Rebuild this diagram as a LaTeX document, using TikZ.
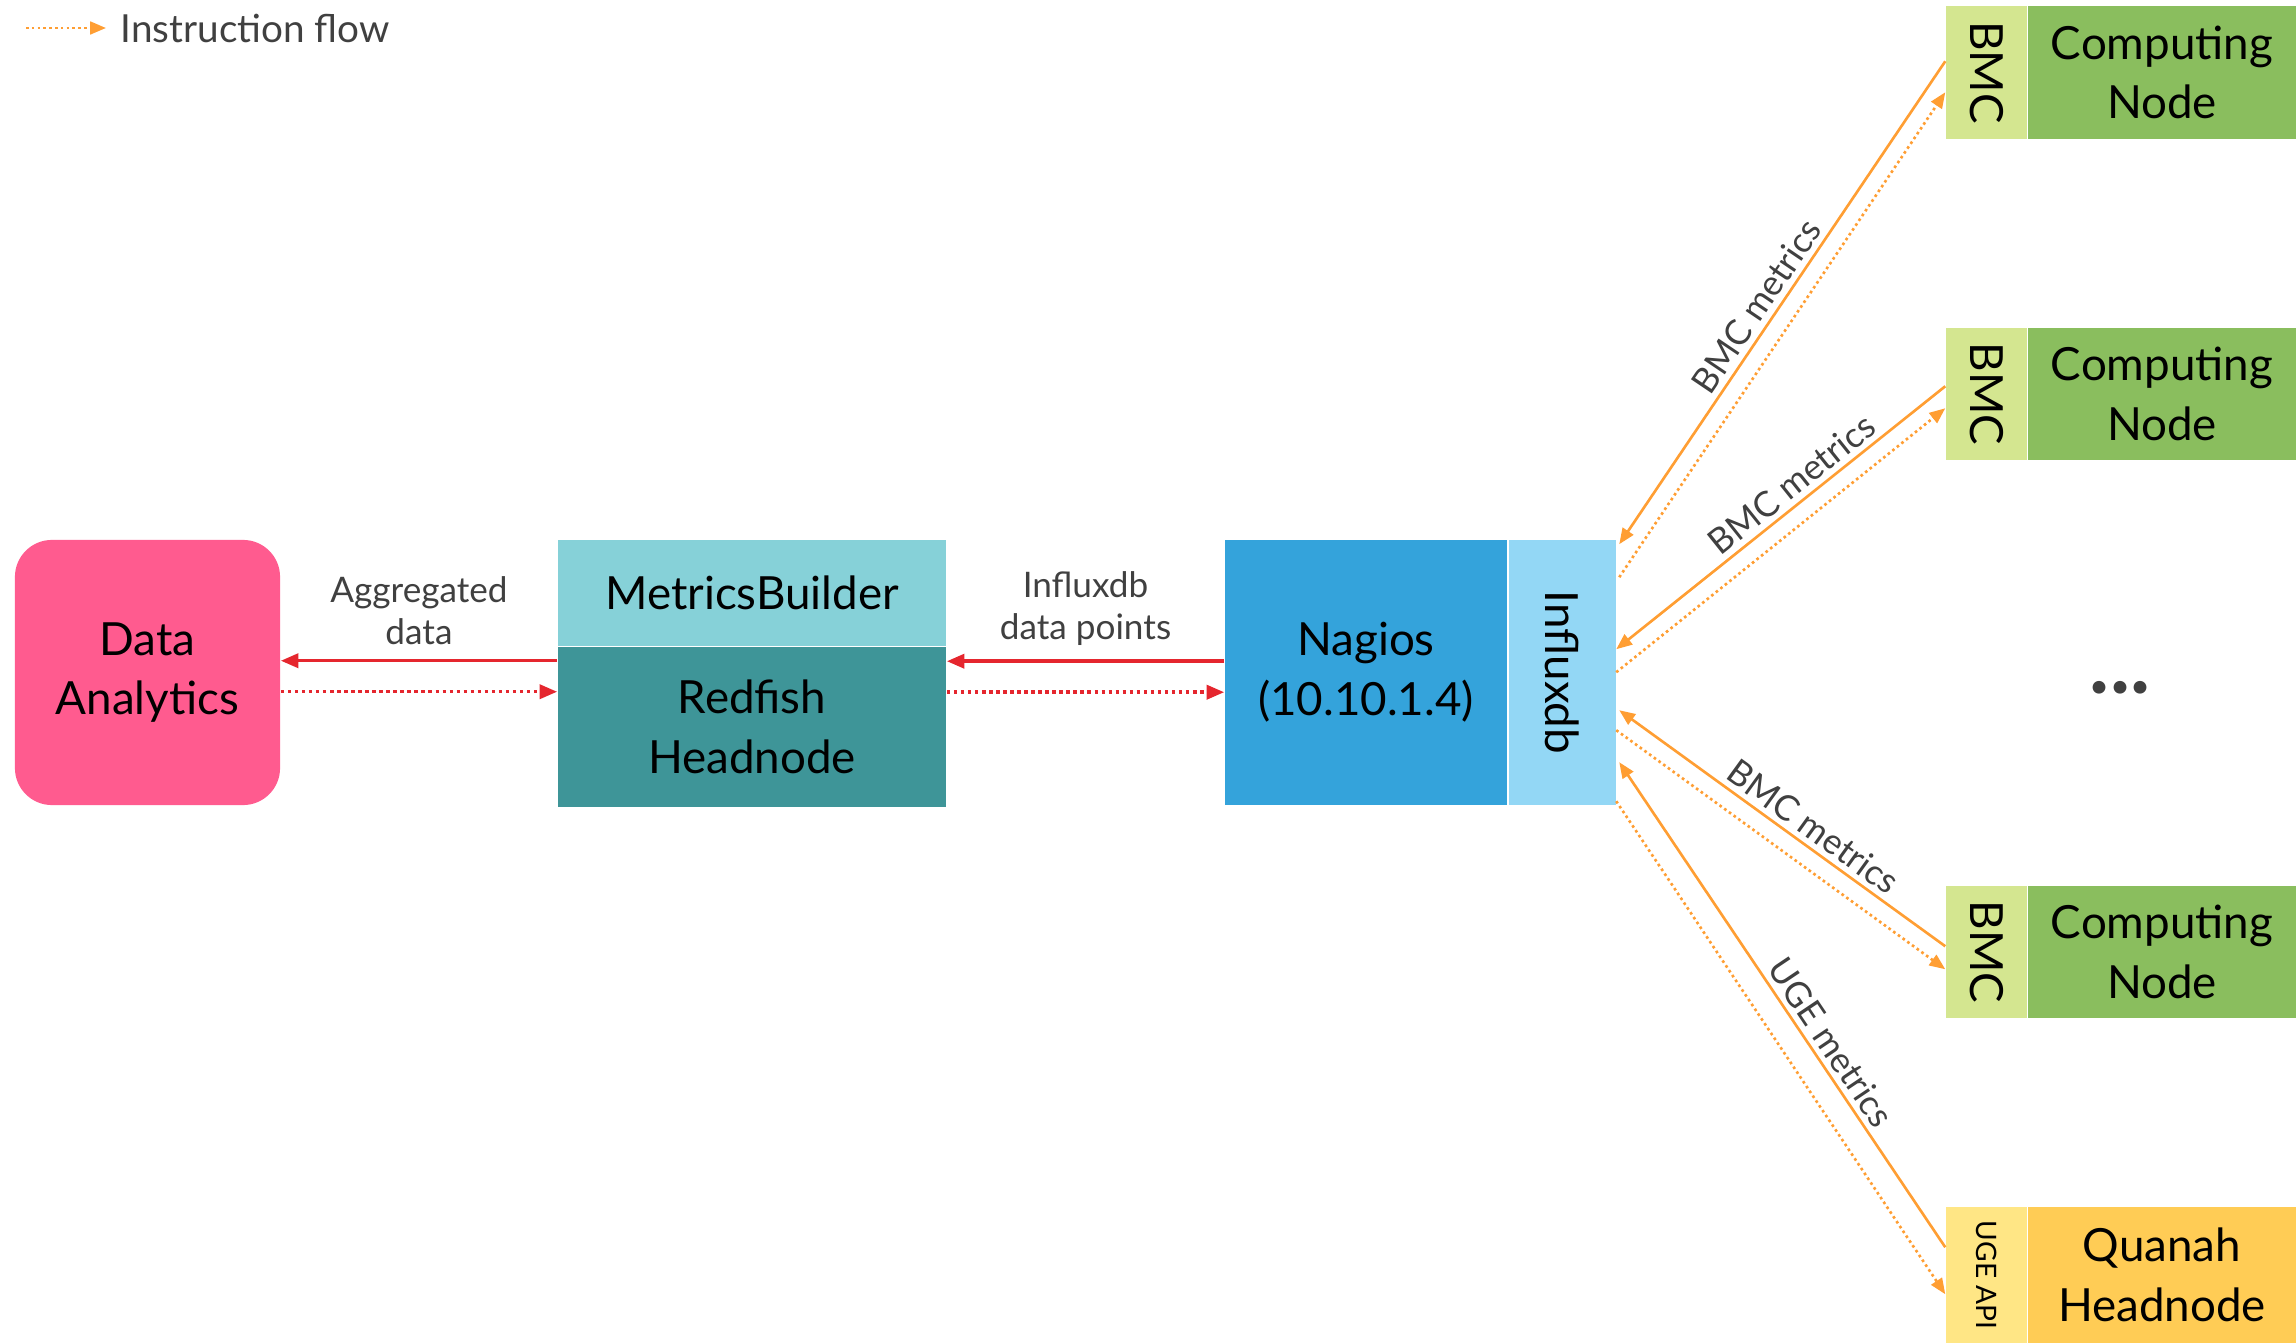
\documentclass[tikz,border=0pt]{standalone}
\usepackage{fontspec}
\usepackage{graphicx}
\setmainfont{Lato}
\usetikzlibrary{arrows.meta,positioning,calc}
\definecolor{analytics}{HTML}{FF5B8F}
\definecolor{builder}{HTML}{86D1D8}
\definecolor{redfish}{HTML}{3E9598}
\definecolor{nagios}{HTML}{34A3DB}
\definecolor{influx}{HTML}{93D7F5}
\definecolor{bmc}{HTML}{D4E690}
\definecolor{compute}{HTML}{8ABE5E}
\definecolor{ugeapi}{HTML}{FFE685}
\definecolor{quanah}{HTML}{FFCC55}
\definecolor{metricline}{HTML}{FF9E33}
\definecolor{dataline}{HTML}{E5262E}
\definecolor{labeltext}{HTML}{404040}

\begin{document}
\begin{tikzpicture}[x=0.01cm,y=-0.01cm,
  box/.style={inner sep=0pt,align=center,font=\fontsize{13}{17}\selectfont},
  lbl/.style={font=\fontsize{10}{12}\selectfont,text=labeltext,inner sep=1.5pt},
  metric/.style={draw=metricline,line width=0.75pt,-{Triangle[length=4.5pt,width=3.6pt]}},
  instr/.style={metric,dash pattern=on 0.75pt off 0.9pt},
  data/.style={draw=dataline,line width=1pt,-{Triangle[length=5pt,width=4pt]}},
  datainstr/.style={data,dash pattern=on 1pt off 1pt}]
\useasboundingbox (0,0) rectangle (2296,1343);

% legend
\coordinate (lg) at (26,28);
\node[lbl,font=\fontsize{11}{13}\selectfont,inner sep=4pt,anchor=west] (lgt) at (106,28) {Instruction flow};
\draw[instr] (lg) -- (lgt.west);

% main chain
\node[box,fill=analytics,rounded corners=0.37cm,minimum width=2.65cm,minimum height=2.65cm] (da) at (147.5,672.5) {Data\\Analytics};
\node[box,fill=builder,minimum width=3.88cm,minimum height=1.06cm] (mb) at (752,593) {MetricsBuilder};
\node[box,fill=redfish,minimum width=3.88cm,minimum height=1.59cm,below=0pt of mb] (rf) {Redfish\\Headnode};
\node[box,fill=nagios,minimum width=2.82cm,minimum height=2.65cm] (ng) at (1366,672.5) {Nagios\\(10.10.1.4)};
\node[box,fill=influx,minimum width=1.07cm,minimum height=2.65cm,right=0pt of ng] (ifx) {\rotatebox{-90}{Influxdb}};

% sources
\node[box,fill=bmc,minimum width=0.81cm,minimum height=1.33cm] (bmc1) at (1986.5,72.5) {\rotatebox{-90}{BMC}};
\node[box,fill=compute,minimum width=2.67cm,minimum height=1.33cm,right=0pt of bmc1] (cn1) {Computing\\Node};
\node[box,fill=bmc,minimum width=0.81cm,minimum height=1.32cm] (bmc2) at (1986.5,394) {\rotatebox{-90}{BMC}};
\node[box,fill=compute,minimum width=2.67cm,minimum height=1.32cm,right=0pt of bmc2] (cn2) {Computing\\Node};
\node[box,fill=bmc,minimum width=0.81cm,minimum height=1.32cm] (bmc3) at (1986.5,952) {\rotatebox{-90}{BMC}};
\node[box,fill=compute,minimum width=2.67cm,minimum height=1.32cm,right=0pt of bmc3] (cn3) {Computing\\Node};
\node[box,fill=ugeapi,font=\fontsize{8}{10}\selectfont,minimum width=0.81cm,minimum height=1.36cm] (uge) at (1986.5,1275) {\rotatebox{-90}{UGE API}};
\node[box,fill=quanah,minimum width=2.67cm,minimum height=1.36cm,right=0pt of uge] (qh) {Quanah\\Headnode};
\node[text=labeltext,font=\fontsize{24}{24}\selectfont\bfseries,inner sep=0pt,anchor=base] (more) at (2120,694) {...};

% data flow
\coordinate (a1) at ($(rf.north west)+(0,14)$);
\coordinate (a2) at ($(rf.north west)+(0,45)$);
\draw[data] (a1) -- node[lbl,above,align=center,inner sep=4pt] {Aggregated\\data} (a1 -| da.east);
\draw[datainstr] (a2 -| da.east) -- (a2);
\coordinate (b1) at ($(ng.north west)+(0,122)$);
\coordinate (b2) at ($(ng.north west)+(0,153)$);
\draw[data] (b1) -- node[lbl,above,align=center,inner sep=4pt] {Influxdb\\data points} (b1 -| rf.east);
\draw[datainstr] (b2 -| rf.east) -- (b2);

% metrics
\draw[metric] ($(bmc1.north west)+(0,56)$) -- node[lbl,sloped,above,pos=0.53] {BMC metrics} ($(ifx.north east)+(3,5)$);
\draw[instr] ($(ifx.north east)+(3,38)$) -- ($(bmc1.north west)+(0,87)$);
\draw[metric] ($(bmc2.north west)+(0,59)$) -- node[lbl,sloped,above,pos=0.43] {BMC metrics} ($(ifx.north east)+(0,110)$);
\draw[instr] ($(ifx.north east)+(0,133)$) -- ($(bmc2.north west)+(0,81)$);
\draw[metric] ($(bmc3.north west)+(0,61)$) -- node[lbl,sloped,above,pos=0.44] {BMC metrics} ($(ifx.north east)+(3,171)$);
\draw[instr] ($(ifx.north east)+(0,191)$) -- ($(bmc3.north west)+(0,84)$);
\draw[metric] ($(uge.north west)+(0,41)$) -- node[lbl,sloped,above,pos=0.40] {UGE metrics} ($(ifx.north east)+(3,223)$);
\draw[instr] ($(ifx.north east)+(0,262)$) -- ($(uge.north west)+(0,88)$);
\end{tikzpicture}
\end{document}
